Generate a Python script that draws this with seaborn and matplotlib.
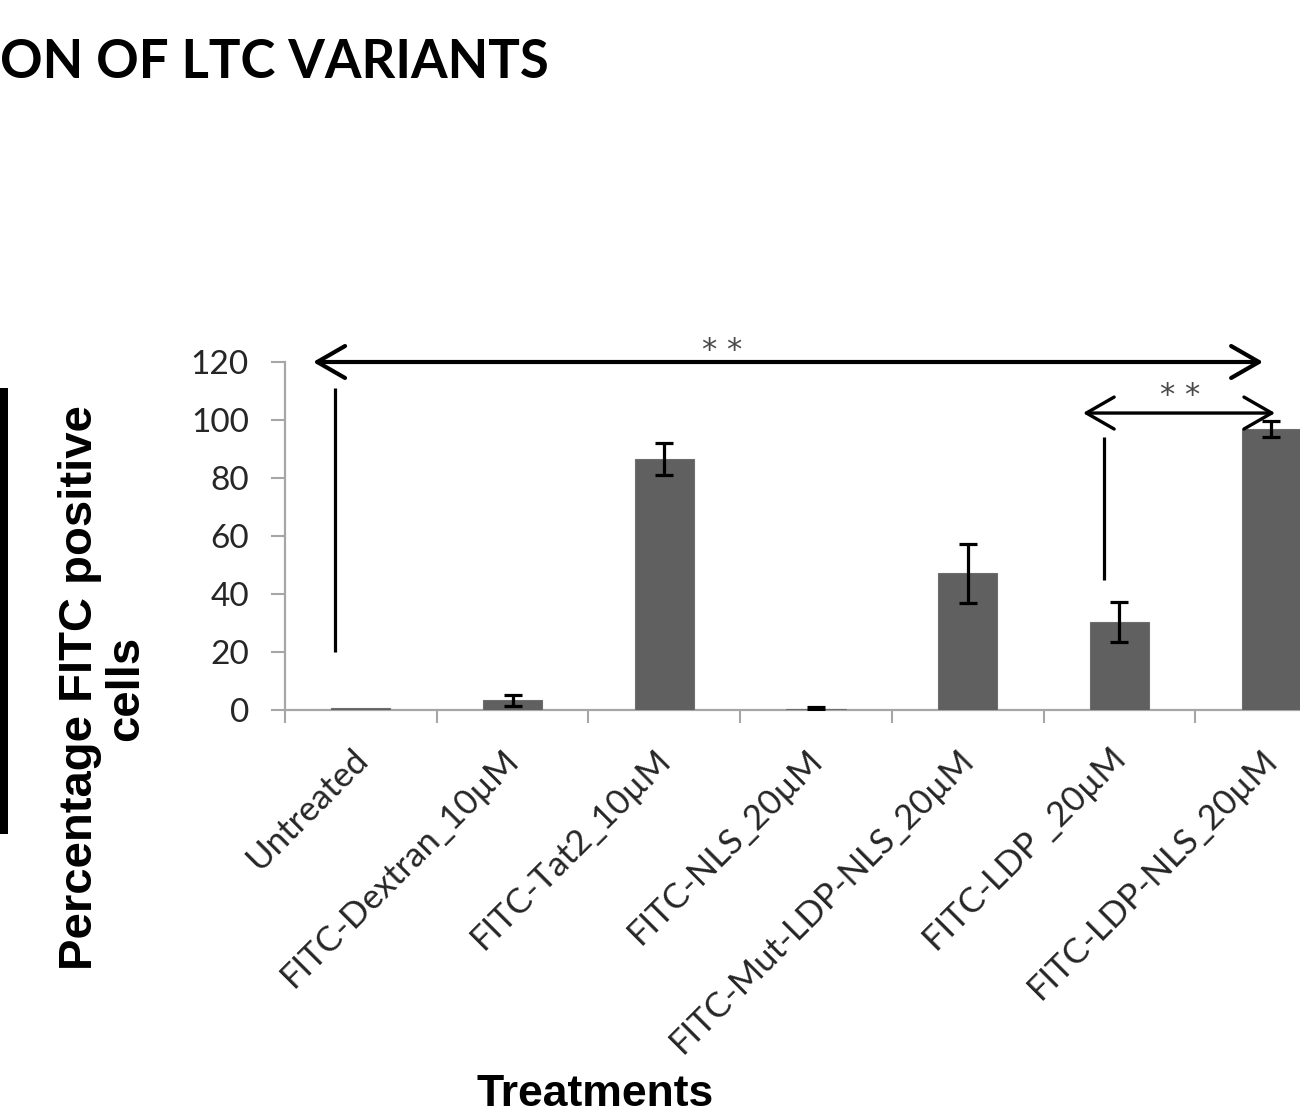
import numpy as np
import pandas as pd
import matplotlib
matplotlib.use("Agg")
import matplotlib.pyplot as plt
import seaborn as sns
from matplotlib.transforms import ScaledTranslation
from matplotlib.patches import ArrowStyle, Rectangle

# Percentage of FITC-positive cells per treatment (mean and error)
treatments = [
    "Untreated",
    "FITC-Dextran_10µM",
    "FITC-Tat2_10µM",
    "FITC-NLS_20µM",
    "FITC-Mut-LDP-NLS_20µM",
    "FITC-LDP _20µM",
    "FITC-LDP-NLS_20µM",
]
pct_positive = [0.7, 3.3, 86.6, 0.5, 47.1, 30.4, 96.9]
pct_error = [0.0, 2.0, 5.4, 0.4, 10.2, 7.0, 2.6]
y_ticks = [0, 20, 40, 60, 80, 100, 120]

# Significance brackets: arrow span, arrow height, star label, vertical stem
sig_arrow_x = [(-0.315, 5.947), (4.76, 6.026)]
sig_arrow_y = [120.0, 102.4]
sig_star_xy = [(2.38, 124.0), (5.40, 108.3)]
sig_stem_x = [-0.17, 4.899]
sig_stem_y = [(20, 111), (45, 94)]

sns.set_theme(style="white")
plt.rcParams["font.family"] = ["Lato", "DejaVu Sans"]

W, H = 1300, 1115
fig = plt.figure(figsize=(W / 100, H / 100), dpi=100)
ax = fig.add_axes([285 / W, 1 - 710 / H, (1347 - 285) / W, (710 - 362) / H])

df = pd.DataFrame({"treatment": treatments, "pct": pct_positive})
sns.barplot(data=df, x="treatment", y="pct", color="#606060", saturation=1,
            width=0.39, errorbar=None, edgecolor="#6e6e6e", linewidth=0.8, ax=ax)

idx = np.array([i for i, e in enumerate(pct_error) if e > 0])
ax.errorbar(idx, np.array(pct_positive)[idx], yerr=np.array(pct_error)[idx],
            fmt="none", ecolor="black", elinewidth=2.3, capsize=6.5, capthick=2.3,
            zorder=3)

ax.set_xlim(-0.5, 6.5)
ax.set_ylim(0, 120)
ax.set_yticks(y_ticks)
ax.set_xlabel("")
ax.set_ylabel("")

for side in ("top", "right"):
    ax.spines[side].set_visible(False)
for side in ("left", "bottom"):
    ax.spines[side].set_color("#a6a6a6")
    ax.spines[side].set_linewidth(1.6)
ax.spines["bottom"].set_zorder(0.5)

ax.tick_params(axis="y", length=10, width=1.5, color="#a6a6a6", pad=16,
               labelsize=24, labelcolor="#262626", direction="out", left=True)
ax.set_xticks(range(len(treatments)))
ax.set_xticklabels(treatments, rotation=45, ha="right", va="top",
                   rotation_mode="anchor")
ax.tick_params(axis="x", which="major", length=0, pad=24, labelsize=25,
               labelcolor="#262626")
ax.set_xticks(np.arange(-0.5, len(treatments) + 0.5, 1), minor=True)
ax.tick_params(axis="x", which="minor", length=9, width=1.5, color="#a6a6a6",
               direction="out", bottom=True)

shift = ScaledTranslation(-10 / 100, 0, fig.dpi_scale_trans)
for lab in ax.get_xticklabels():
    lab.set_transform(lab.get_transform() + shift)

# Significance arrows, stems and stars
for (x0, x1), y, (sx, sy), stx, (lo, hi), lw in zip(
        sig_arrow_x, sig_arrow_y, sig_star_xy, sig_stem_x, sig_stem_y, [3.0, 2.4]):
    ax.annotate("", xy=(x1, y), xytext=(x0, y), annotation_clip=False,
                arrowprops=dict(arrowstyle=ArrowStyle("<->", head_length=0.8, head_width=0.46),
                                lw=lw, color="black", shrinkA=0, shrinkB=0,
                                mutation_scale=25, clip_on=False))
    ax.text(sx, sy, "* *", ha="center", va="center", fontsize=22, color="#4a4a4a",
            family="DejaVu Sans", clip_on=False)
    ax.plot([stx, stx], [lo, hi], color="black", lw=2.3, solid_capstyle="butt",
            clip_on=False)

# Labels and heading
fig.text(103 / W, 1 - 688 / H, "Percentage FITC positive\ncells", rotation=90,
         ha="center", va="center", multialignment="center", fontsize=34,
         fontweight="bold", family="Liberation Sans", linespacing=1.05, color="black")
fig.text(595 / W, 1 - 1094 / H, "Treatments", ha="center", va="center",
         fontsize=32, fontweight="bold", family="Liberation Sans", color="black")
fig.text(0, 1 - 63 / H, "ON OF LTC VARIANTS", ha="left", va="center",
         fontsize=38, fontweight="bold", family="Lato", color="black")

fig.add_artist(Rectangle((0, 1 - 834 / H), 8 / W, (834 - 388) / H,
                         transform=fig.transFigure, color="black", lw=0))

fig.savefig("out.png", dpi=100, facecolor="white")
